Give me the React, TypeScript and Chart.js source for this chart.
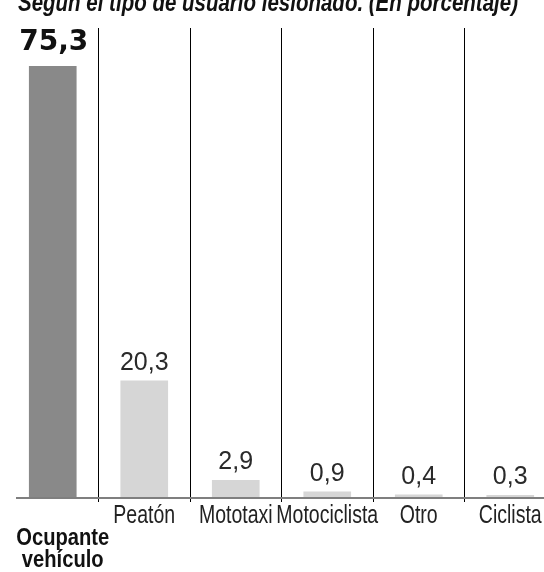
import { useEffect, useRef } from "react";
import { Chart, registerables } from "chart.js";

Chart.register(...registerables);

const TITLE = "Según el tipo de usuario lesionado. (En porcentaje)";
const CATEGORIES = ["Ocupante vehículo", "Peatón", "Mototaxi", "Motociclista", "Otro", "Ciclista"];
const VALUES = [75.3, 20.3, 2.9, 0.9, 0.4, 0.3];
const Y_MAX = 82;

const SANS = "'Liberation Sans', Arial, sans-serif";
const BOLD_NUM = "'DejaVu Sans', sans-serif";

const OFF = 10;
const CW = 556;
const CH = 582;

const fmt = (v: number) => v.toFixed(1).replace(".", ",");

// draw text squeezed horizontally (condensed look)
function condensedText(
  c: CanvasRenderingContext2D,
  text: string,
  x: number,
  y: number,
  sx: number,
  align: CanvasTextAlign
) {
  c.save();
  c.translate(x, y);
  c.scale(sx, 1);
  c.textAlign = align;
  c.textBaseline = "alphabetic";
  c.fillText(text, 0, 0);
  c.restore();
}

export default function App() {
  const ref = useRef<HTMLCanvasElement>(null);

  useEffect(() => {
    const canvas = ref.current!;

    const titlePlugin = {
      id: "topTitle",
      beforeDraw(chart: any) {
        const c = chart.ctx;
        c.save();
        c.font = `italic bold 25px ${SANS}`;
        c.fillStyle = "#111";
        const w = c.measureText(TITLE).width;
        condensedText(c, TITLE, 268, 11 + OFF, 500 / w, "center");
        c.restore();
      },
    };

    const baselinePlugin = {
      id: "baseline",
      beforeDatasetsDraw(chart: any) {
        const { ctx: c, chartArea } = chart;
        c.save();
        c.fillStyle = "#7f7f7f";
        c.fillRect(chartArea.left + 9, chartArea.bottom, chartArea.right - chartArea.left - 9, 2);
        c.restore();
      },
    };

    const valuePlugin = {
      id: "values",
      afterDatasetsDraw(chart: any) {
        const c = chart.ctx;
        const meta = chart.getDatasetMeta(0);
        c.save();
        c.textAlign = "center";
        c.textBaseline = "alphabetic";
        meta.data.forEach((bar: any, i: number) => {
          if (i === 0) {
            c.font = `bold 28px ${BOLD_NUM}`;
            c.fillStyle = "#111";
            c.fillText(fmt(VALUES[i]), bar.x + 1, bar.y - 16);
          } else {
            c.font = `25px ${SANS}`;
            c.fillStyle = "#2a2a2a";
            c.fillText(fmt(VALUES[i]), bar.x, bar.y - 11);
          }
        });
        c.restore();
      },
    };

    const xLabelPlugin = {
      id: "xLabels",
      afterDraw(chart: any) {
        const c = chart.ctx;
        const xs = chart.scales.x;
        const bottom = chart.chartArea.bottom;
        c.save();
        CATEGORIES.forEach((label, i) => {
          const x = xs.getPixelForTick(i);
          if (i === 0) {
            c.font = `bold 24px ${SANS}`;
            c.fillStyle = "#111";
            const words = label.split(" ");
            words.forEach((wd, k) => {
              condensedText(c, wd, x + 10, bottom + 48 + k * 22, 0.84, "center");
            });
          } else {
            c.font = `25px ${SANS}`;
            c.fillStyle = "#222";
            condensedText(c, label, x, bottom + 26, 0.78, "center");
          }
        });
        c.restore();
      },
    };

    const chart = new Chart(canvas, {
      type: "bar",
      data: {
        labels: CATEGORIES,
        datasets: [
          {
            data: VALUES,
            backgroundColor: VALUES.map((_, i) => (i === 0 ? "#898989" : "#d6d6d6")),
            borderWidth: 0,
            barThickness: 47,
          },
        ],
      },
      options: {
        responsive: false,
        maintainAspectRatio: false,
        animation: false,
        events: [],
        layout: { padding: { left: 7, right: 0, top: 28 + OFF, bottom: 0 } },
        plugins: {
          legend: { display: false },
          title: { display: false },
          tooltip: { enabled: false },
        },
        scales: {
          y: { display: false, min: 0, max: Y_MAX },
          x: {
            type: "category",
            offset: true,
            border: { display: false },
            grid: {
              offset: true,
              drawOnChartArea: true,
              drawTicks: true,
              tickLength: 5,
              lineWidth: 1,
              color: (ctx: any) =>
                ctx.index === 0 || ctx.index >= CATEGORIES.length ? "rgba(0,0,0,0)" : "#000",
            },
            ticks: { display: false, autoSkip: false },
            afterFit: (scale: any) => {
              scale.height = 75;
              scale.paddingLeft = 0;
              scale.paddingRight = 0;
            },
          },
        },
      },
      plugins: [titlePlugin, baselinePlugin, valuePlugin, xLabelPlugin],
    });

    return () => chart.destroy();
  }, []);

  return (
    <div
      style={{
        position: "fixed",
        left: 0,
        top: 0,
        width: 544,
        height: 572,
        overflow: "hidden",
        background: "#fff",
      }}
    >
      <canvas
        ref={ref}
        width={CW}
        height={CH}
        style={{ position: "absolute", left: 0, top: -OFF, width: CW, height: CH }}
      />
    </div>
  );
}
